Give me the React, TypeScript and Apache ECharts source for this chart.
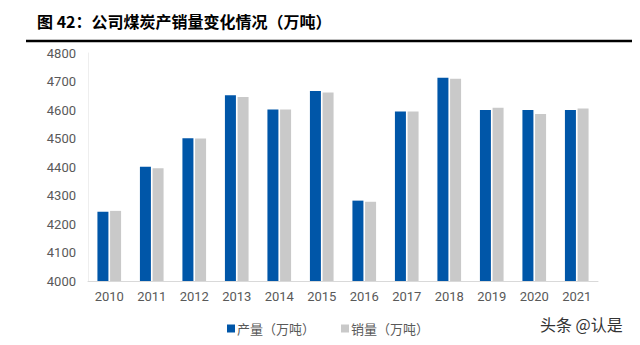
import React, { useEffect, useRef } from "react";
import * as echarts from "echarts";

const years = ["2010", "2011", "2012", "2013", "2014", "2015", "2016", "2017", "2018", "2019", "2020", "2021"];
const production = [4243, 4401, 4501, 4652, 4602, 4667, 4282, 4595, 4713, 4600, 4600, 4600];
const sales = [4246, 4396, 4500, 4646, 4602, 4661, 4278, 4595, 4710, 4608, 4586, 4605];
const titleText = "图 42：公司煤炭产销量变化情况（万吨）";
const seriesNames = ["产量（万吨）", "销量（万吨）"];

export default function App() {
  const ref = useRef<HTMLDivElement>(null);
  useEffect(() => {
    const chart = echarts.init(ref.current!, undefined, { renderer: "svg" });
    chart.setOption({
      animation: false,
      backgroundColor: "#ffffff",
      title: {
        text: titleText,
        left: 32,
        top: 8,
        textStyle: { fontFamily: "Noto Sans CJK SC", fontWeight: "bold", fontSize: 16, color: "#000" },
      },
      graphic: [
        { type: "line", shape: { x1: 26, y1: 41, x2: 632, y2: 41 }, style: { stroke: "#000", lineWidth: 2.5 } },
        {
          type: "text",
          left: 540,
          top: 316,
          style: { text: "头条 @认是", font: "16px 'Noto Sans CJK SC'", fill: "#333" },
        },
      ],
      legend: {
        left: 222,
        top: 317,
        itemWidth: 8,
        itemHeight: 8,
        itemGap: 26,
        icon: "rect",
        textStyle: { fontFamily: "Noto Sans CJK SC", fontSize: 13, color: "#595959", padding: [0, 0, 0, -3] },
        data: seriesNames,
      },
      grid: { left: 88, right: 42, top: 53, bottom: 64 },
      xAxis: {
        type: "category",
        data: years,
        axisLine: { lineStyle: { color: "#d9d9d9" } },
        axisTick: { show: false },
        axisLabel: { color: "#595959", fontSize: 13, fontFamily: "Roboto", margin: 9 },
      },
      yAxis: {
        type: "value",
        min: 4000,
        max: 4800,
        interval: 100,
        axisLine: { show: true, lineStyle: { color: "#eeeeee" } },
        axisTick: { show: false },
        splitLine: { show: false },
        axisLabel: {
          color: "#595959",
          fontSize: 13,
          fontFamily: "Roboto",
          margin: 12,
          formatter: (v: number) => String(v),
        },
      },
      series: [
        { name: seriesNames[0], type: "bar", data: production, barWidth: 11, barGap: "15%", itemStyle: { color: "#0056a8" } },
        { name: seriesNames[1], type: "bar", data: sales, barWidth: 11, itemStyle: { color: "#c9c9c9" } },
      ],
    });
    return () => chart.dispose();
  }, []);
  return <div ref={ref} style={{ width: 640, height: 345, margin: -8 }} />;
}
